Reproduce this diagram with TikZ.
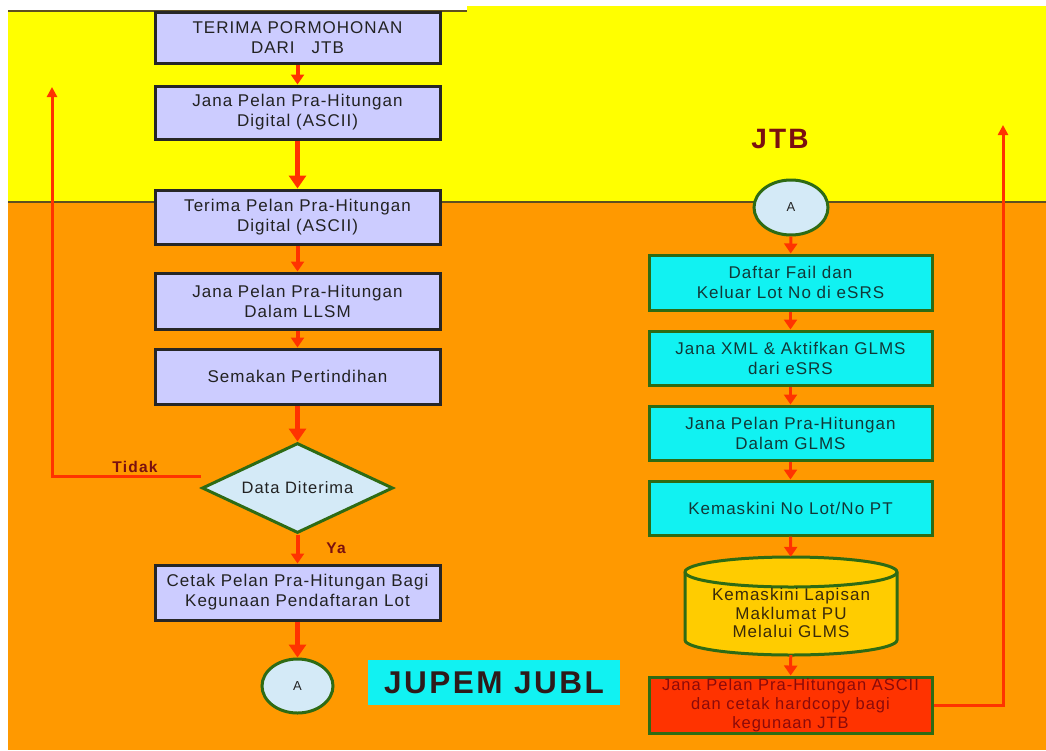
\documentclass[tikz,border=0pt]{standalone}
\usepackage{fontspec}
\setmainfont{Liberation Sans}
\newfontfamily\boxf[LetterSpace=6]{Liberation Sans}
\newfontfamily\boldf[LetterSpace=8]{Liberation Sans}
\usetikzlibrary{shapes.geometric,arrows.meta}
\definecolor{bgyellow}{HTML}{FFFF00}
\definecolor{bgorange}{HTML}{FF9900}
\definecolor{lav}{HTML}{CCCCFF}
\definecolor{cyanbox}{HTML}{11F2F2}
\definecolor{grn}{HTML}{2E6B14}
\definecolor{arrred}{HTML}{FF3300}
\definecolor{lightblue}{HTML}{D4EAF7}
\definecolor{txtdark}{HTML}{222222}
\definecolor{txtteal}{HTML}{123838}
\definecolor{darkred}{HTML}{7A1010}
\definecolor{gold}{HTML}{FFCC00}
\definecolor{cyltxt}{HTML}{3A2A0A}
\definecolor{boxred}{HTML}{FF3300}
\definecolor{redtxt}{HTML}{8B0A0A}
\definecolor{olive}{HTML}{5E5020}
\definecolor{jubltxt}{HTML}{2E1A1A}
\tikzset{
  lbox/.style={draw=black!85, line width=3pt, fill=lav, minimum width=285pt, inner sep=0pt,
    align=center, font=\boxf\fontsize{17}{20}\selectfont, text=txtdark},
  rbox/.style={draw=grn, line width=3pt, fill=cyanbox, minimum width=283pt, inner sep=0pt,
    align=center, font=\boxf\fontsize{17}{20}\selectfont, text=txtteal},
  conn/.style={ellipse, draw=grn, line width=3pt, fill=lightblue, inner sep=0pt,
    font=\boxf\fontsize{13}{15}\selectfont, text=txtdark},
  arr/.style={draw=arrred, line width=4pt, -{Triangle[width=13pt,length=10pt]}},
  bigarr/.style={draw=arrred, line width=5pt, -{Triangle[width=17pt,length=13pt]}},
  fbline/.style={draw=arrred, line width=3pt, -{Triangle[width=10pt,length=10pt]}},
  lbl/.style={font=\boldf\bfseries\fontsize{15.5}{18}\selectfont, text=darkred}
}
\begin{document}
\begin{tikzpicture}[x=1pt,y=-1pt]
\useasboundingbox (0,0) rectangle (1046,750);
% backgrounds
\fill[white] (0,0) rectangle (1046,750);
\fill[bgyellow] (8,6) rectangle (1046,202);
\fill[white] (8,0) rectangle (467,11);
\fill[bgorange] (8,202) rectangle (1046,750);
\draw[olive, line width=1.5pt] (8,11) -- (467,11);
\draw[olive, line width=1.5pt] (8,202) -- (1046,202);

% left column
\node[lbox, minimum height=51pt] (l1) at (297.5,37.5) {TERIMA PORMOHONAN\\DARI\quad JTB};
\node[lbox, minimum height=53pt] (l2) at (297.5,112.5) {Jana Pelan Pra-Hitungan\\Digital (ASCII)};
\node[lbox, minimum height=54pt] (l3) at (297.5,217) {Terima Pelan Pra-Hitungan\\Digital (ASCII)};
\node[lbox, minimum height=56pt] (l4) at (297.5,301) {Jana Pelan Pra-Hitungan\\Dalam LLSM};
\node[lbox, minimum height=55pt] (l5) at (297.5,376.5) {Semakan Pertindihan};
\node[diamond, draw=grn, line width=3pt, fill=lightblue, inner sep=0pt, aspect=2.1,
  minimum width=191pt, minimum height=90pt, font=\boxf\fontsize{16.5}{20}\selectfont, text=txtdark]
  (dia) at (297.5,488) {Data Diterima};
\node[lbox, minimum height=55pt] (l6) at (297.5,592.5) {Cetak Pelan Pra-Hitungan Bagi\\Kegunaan Pendaftaran Lot};
\node[conn, minimum width=71pt, minimum height=54pt] (a1) at (297.5,686) {A};

\node[lbl] (tidak) at (135,467) {Tidak};
\node[lbl] (ya) at (336,548) {Ya};
\coordinate (fb) at (52,87);

\draw[arr] (l1) -- (l2);
\draw[bigarr] (l2) -- (l3);
\draw[arr] (l3) -- (l4);
\draw[arr] (l4) -- (l5);
\draw[bigarr] (l5) -- (dia);
\draw[arr] (dia) -- (l6);
\draw[bigarr] (l6) -- (a1);
\draw[fbline] ([yshift=12pt]dia.west) -| (fb);

% right column
\node[font=\boldf\bfseries\fontsize{28}{32}\selectfont, text=darkred] (jtb) at (780,139) {JTB};
\node[conn, minimum width=74pt, minimum height=55pt] (a2) at (791,207.5) {A};
\node[rbox, minimum height=55pt] (r1) at (790.5,282.5) {Daftar Fail dan\\Keluar Lot No di eSRS};
\node[rbox, minimum height=54pt] (r2) at (790.5,358) {Jana XML \& Aktifkan GLMS\\dari eSRS};
\node[rbox, minimum height=54pt] (r3) at (790.5,433) {Jana Pelan Pra-Hitungan\\Dalam GLMS};
\node[rbox, minimum height=54pt] (r4) at (790.5,508) {Kemaskini No Lot/No PT};
% cylinder drawn directly
\draw[draw=grn, line width=3pt, fill=gold] (685,572) -- (685,640)
  arc[start angle=180, end angle=360, x radius=106pt, y radius=15pt] -- (897,572)
  arc[start angle=0, end angle=180, x radius=106pt, y radius=15pt] -- cycle;
\draw[draw=grn, line width=3pt] (685,572) arc[start angle=180, end angle=360, x radius=106pt, y radius=15pt];
\node[minimum width=212pt, minimum height=98pt, inner sep=0pt] (cyl) at (791,606) {};
\node[align=center, inner sep=0pt, font=\boxf\fontsize{17}{18.5}\selectfont, text=cyltxt]
  (cyltext) at (791,613) {Kemaskini Lapisan\\Maklumat PU\\Melalui GLMS};
\node[rbox, fill=boxred, minimum height=56pt, text=redtxt, font=\boxf\fontsize{16.5}{19}\selectfont] (r5) at (790.5,705)
  {Jana Pelan Pra-Hitungan ASCII\\dan cetak hardcopy bagi\\kegunaan JTB};
\coordinate (fr) at (1003,125);

\draw[arr, line width=3pt] (a2) -- (r1);
\draw[arr, line width=3pt] (r1) -- (r2);
\draw[arr, line width=3pt] (r2) -- (r3);
\draw[arr, line width=3pt] (r3) -- (r4);
\draw[arr, line width=3pt] (r4) -- (cyl);
\draw[arr, line width=3pt] (cyl) -- (r5);
\draw[fbline] (r5.east) -| (fr);

\node[fill=cyanbox, minimum width=252pt, minimum height=45pt, inner sep=0pt,
  font=\boldf\bfseries\fontsize{31.5}{34}\selectfont, text=jubltxt] (jubl) at (494,682.5) {JUPEM JUBL};
\end{tikzpicture}
\end{document}
